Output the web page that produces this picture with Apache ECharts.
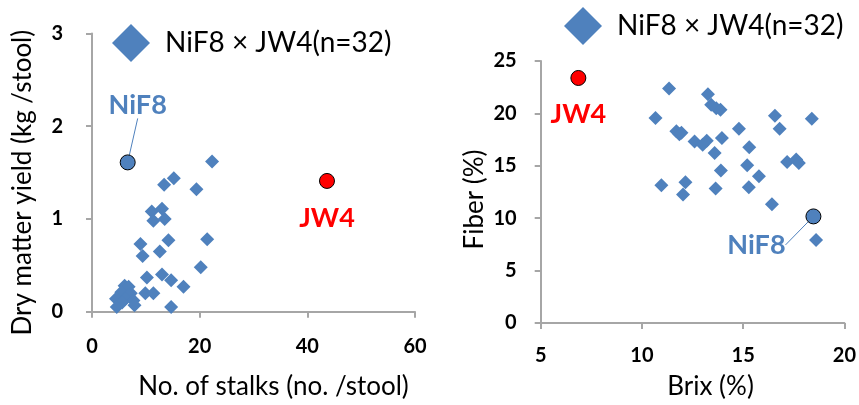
<!DOCTYPE html>
<html><head><meta charset="utf-8">
<script src="https://cdn.jsdelivr.net/npm/echarts@6/dist/echarts.min.js"></script>
<style>html,body{margin:0;padding:0;background:#fff}#c{width:859px;height:405px}</style>
</head><body><div id="c"></div>
<script>
// Left panel: No. of stalks vs Dry matter yield
const seriesName = 'NiF8 × JW4(n=32)';
const stalksX = [22.3,15.2,13.4,19.4,11.1,13.0,11.4,13.5,9.0,14.2,21.4,9.4,12.6,20.2,10.2,13.0,14.7,17.0,9.9,11.4,14.7,6.06,6.8,5.44,7.2,6.8,4.46,6.2,7.7,5.6,7.9,4.6];
const yieldY  = [1.62,1.44,1.37,1.32,1.08,1.11,0.98,1.00,0.73,0.77,0.78,0.60,0.65,0.48,0.37,0.40,0.34,0.27,0.20,0.20,0.05,0.28,0.27,0.21,0.20,0.18,0.14,0.14,0.12,0.10,0.07,0.05];
// Right panel: Brix vs Fiber
const brixX  = [11.34,13.26,13.42,13.67,13.88,10.67,16.57,18.39,14.79,16.80,11.7,11.85,11.95,12.6,13.0,13.2,13.95,13.59,15.3,15.2,13.9,17.17,17.62,17.75,15.78,10.96,12.15,12.03,13.64,15.28,16.42,18.6];
const fiberY = [22.37,21.83,20.82,20.5,20.34,19.55,19.77,19.49,18.54,18.54,18.3,18.0,18.15,17.33,17.0,17.4,17.65,16.22,16.76,15.05,14.54,15.37,15.59,15.27,14.0,13.15,13.43,12.26,12.83,12.96,11.34,7.92];
// Parents
const parentNames = ['NiF8','JW4'];
const parentStalks = [6.63, 43.65];
const parentYield  = [1.61, 1.41];
const parentBrix   = [18.47, 6.86];
const parentFiber  = [10.17, 23.38];
// Tick settings
const stalksTicks = {min:0,max:60,interval:20};
const yieldTicks  = {min:0,max:3,interval:1};
const brixTicks   = {min:5,max:20,interval:5};
const fiberTicks  = {min:0,max:25,interval:5};

const BLUE = '#4f81bd', RED = '#ff0000', AXIS = '#a6a6a6';
const FONT = 'Lato';
const zip = (a,b)=>a.map((v,i)=>[v,b[i]]);

function axisCommon(){
  return {
    axisLine:{show:true,lineStyle:{color:AXIS,width:2}},
    axisTick:{show:true,inside:false,length:6,lineStyle:{color:AXIS,width:2}},
    splitLine:{show:false},
    axisLabel:{color:'#000',fontWeight:'bold',fontSize:20,fontFamily:FONT},
    nameLocation:'middle',
    nameTextStyle:{color:'#000',fontSize:26,fontFamily:FONT}
  };
}

const chart = echarts.init(document.getElementById('c'));
const parentLabel = (color)=>({show:true,formatter:'{b}',color:color,fontWeight:'bold',fontSize:27,fontFamily:FONT});
const legendText = {fontSize:28,fontFamily:FONT,color:'#000',padding:[0,0,0,10]};

chart.setOption({
  animation:false,
  legend:[
    {left:112,top:24,padding:0,data:[seriesName],icon:'diamond',itemWidth:38,itemHeight:38,
     textStyle:legendText,selectedMode:false},
    {left:564,top:7,padding:0,data:[seriesName],icon:'diamond',itemWidth:38,itemHeight:38,
     textStyle:legendText,selectedMode:false}
  ],
  grid:[
    {left:92,top:33.5,width:323,height:278.2},
    {left:540.7,top:61,width:304.3,height:263}
  ],
  xAxis:[
    Object.assign(axisCommon(),stalksTicks,{gridIndex:0,type:'value',name:'No. of stalks (no. /stool)',nameGap:62,
      axisLabel:Object.assign(axisCommon().axisLabel,{margin:25}),
      nameTextStyle:Object.assign(axisCommon().nameTextStyle,{padding:[0,0,0,40]})}),
    Object.assign(axisCommon(),brixTicks,{gridIndex:1,type:'value',name:'Brix (%)',nameGap:51,
      axisLabel:Object.assign(axisCommon().axisLabel,{margin:23}),
      nameTextStyle:Object.assign(axisCommon().nameTextStyle,{padding:[0,0,0,36]})})
  ],
  yAxis:[
    Object.assign(axisCommon(),yieldTicks,{gridIndex:0,type:'value',name:'Dry matter yield (kg /stool)',nameGap:56,
      axisLabel:Object.assign(axisCommon().axisLabel,{margin:29}),
      nameTextStyle:Object.assign(axisCommon().nameTextStyle,{padding:[0,20,0,0]})}),
    Object.assign(axisCommon(),fiberTicks,{gridIndex:1,type:'value',name:'Fiber (%)',nameGap:53,
      axisLabel:Object.assign(axisCommon().axisLabel,{margin:24}),
      nameTextStyle:Object.assign(axisCommon().nameTextStyle,{padding:[0,15,0,0]})})
  ],
  series:[
    {name:seriesName,type:'scatter',xAxisIndex:0,yAxisIndex:0,symbol:'diamond',symbolSize:14,
     itemStyle:{color:BLUE,opacity:1},data:zip(stalksX,yieldY)},
    {name:seriesName,type:'scatter',xAxisIndex:1,yAxisIndex:1,symbol:'diamond',symbolSize:14,
     itemStyle:{color:BLUE,opacity:1},data:zip(brixX,fiberY)},
    // Left parents
    {name:'NiF8-left',type:'scatter',xAxisIndex:0,yAxisIndex:0,symbol:'circle',symbolSize:15,
     itemStyle:{color:BLUE,borderColor:'#000',borderWidth:1,opacity:1},
     label:Object.assign(parentLabel(BLUE),{position:'top',distance:5}),
     labelLayout:{dx:10,dy:-31},
     labelLine:{show:true,lineStyle:{color:BLUE,width:1}},
     data:[{name:parentNames[0],value:[parentStalks[0],parentYield[0]]}]},
    {name:'JW4-left',type:'scatter',xAxisIndex:0,yAxisIndex:0,symbol:'circle',symbolSize:15,
     itemStyle:{color:RED,borderColor:'#000',borderWidth:1,opacity:1},
     label:Object.assign(parentLabel(RED),{position:'bottom',distance:16}),
     data:[{name:parentNames[1],value:[parentStalks[1],parentYield[1]]}]},
    // Right parents
    {name:'NiF8-right',type:'scatter',xAxisIndex:1,yAxisIndex:1,symbol:'circle',symbolSize:15,
     itemStyle:{color:BLUE,borderColor:'#000',borderWidth:1,opacity:1},
     label:Object.assign(parentLabel(BLUE),{position:'bottom',distance:5}),
     labelLayout:{dx:-57,dy:2},
     labelLine:{show:true,lineStyle:{color:BLUE,width:1}},
     data:[{name:parentNames[0],value:[parentBrix[0],parentFiber[0]]}]},
    {name:'JW4-right',type:'scatter',xAxisIndex:1,yAxisIndex:1,symbol:'circle',symbolSize:15,
     itemStyle:{color:RED,borderColor:'#000',borderWidth:1,opacity:1},
     label:Object.assign(parentLabel(RED),{position:'bottom',distance:15}),
     data:[{name:parentNames[1],value:[parentBrix[1],parentFiber[1]]}]}
  ]
});
</script>
</body></html>
